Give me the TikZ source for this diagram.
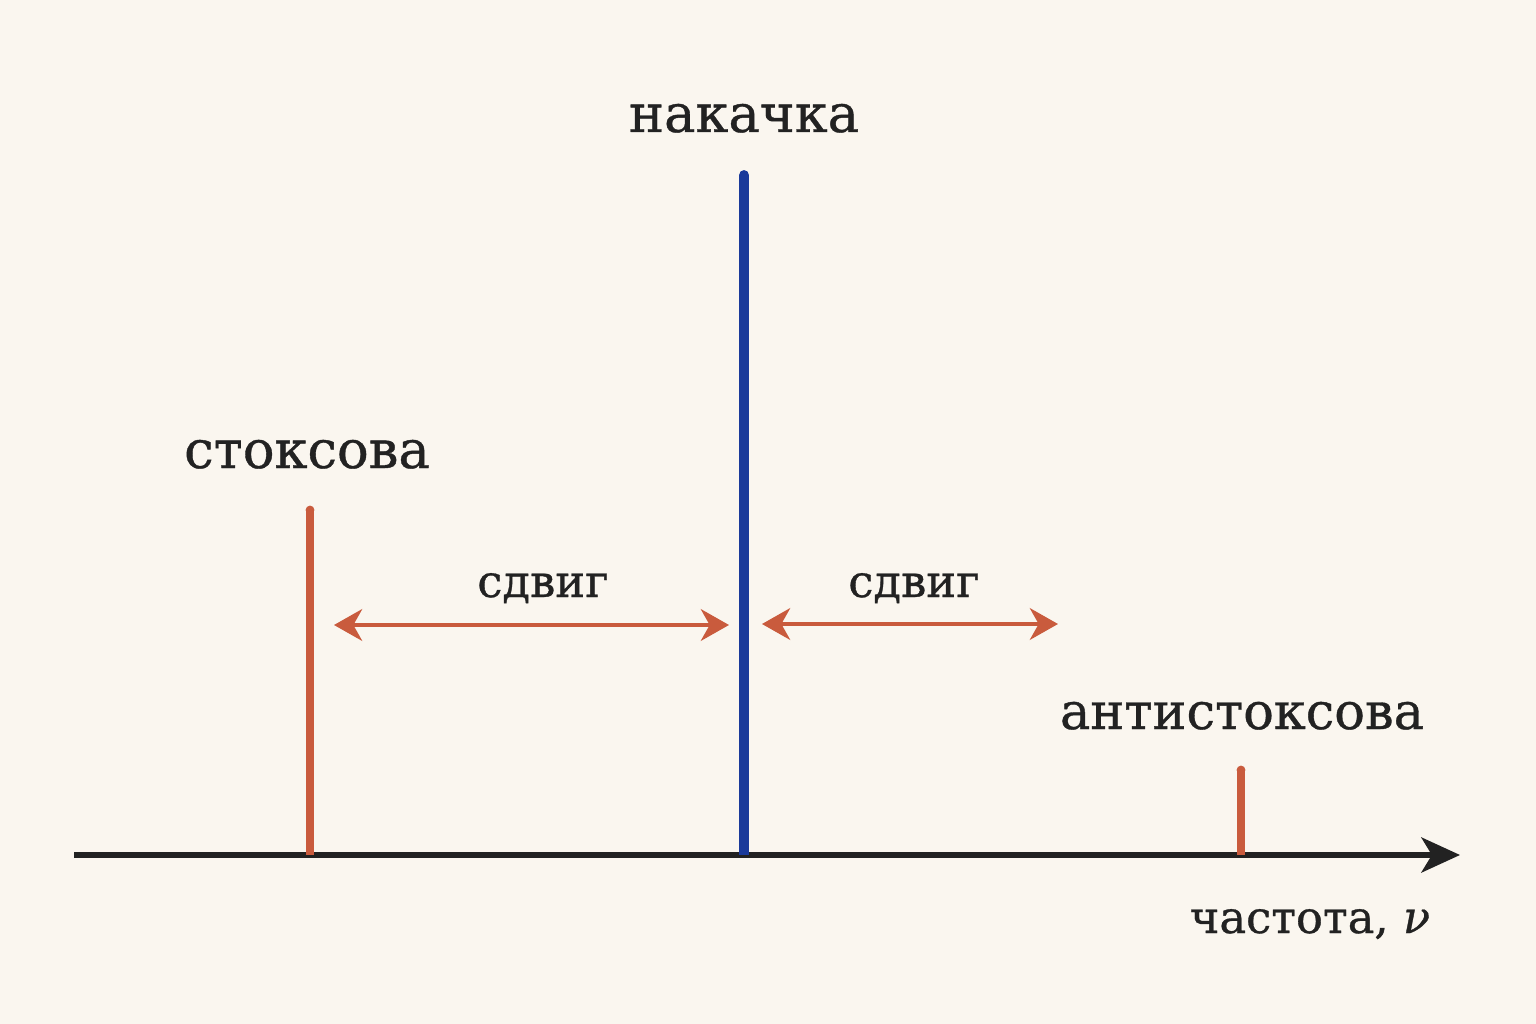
\documentclass[tikz,border=0pt]{standalone}
\usepackage{fontspec}
\setmainfont{DejaVu Serif}
\newfontfamily\lblfont{DejaVu Serif}[UprightFeatures={FakeBold=0.7}, ItalicFeatures={FakeBold=0.7}]
\usetikzlibrary{arrows.meta}
\definecolor{bg}{HTML}{FAF6EF}
\definecolor{pumpblue}{HTML}{1A3A9A}
\definecolor{rust}{HTML}{C95B3D}
\definecolor{ink}{HTML}{222222}
\tikzset{
  lbl/.style={text=ink, font=\lblfont\fontsize{30}{36}\selectfont, inner sep=0pt, anchor=base},
  smalllbl/.style={lbl, font=\lblfont\fontsize{25.5}{30}\selectfont},
  shiftarrow/.style={draw=rust, line width=2.4pt, {Stealth[length=16pt,width=18pt,inset=5pt]}-{Stealth[length=16pt,width=18pt,inset=5pt]}},
}
\begin{document}
\begin{tikzpicture}[x=0.02cm,y=-0.02cm]
\fill[bg] (0,0) rectangle (1536,1024);
\useasboundingbox (0,0) rectangle (1536,1024);
% axis
\coordinate (ax0) at (74,855);
\coordinate (ax1) at (1460,855);
\draw[ink, line width=2.9pt, -{Stealth[length=22pt,width=20pt,inset=6pt]}] (ax0) -- (ax1);
% lines
\coordinate (p0) at (744,855); \coordinate (p1) at (744,175);
\coordinate (s0) at (310,855); \coordinate (s1) at (310,510);
\coordinate (a0) at (1241,855); \coordinate (a1) at (1241,770);
\draw[pumpblue, line width=5.6pt] (p0) -- (p1);
\fill[pumpblue] (p1) circle[radius=2.8pt];
\draw[rust, line width=5pt] (s0) -- (s1);
\fill[rust] (s1) circle[radius=2.5pt];
\draw[rust, line width=5pt] (a0) -- (a1);
\fill[rust] (a1) circle[radius=2.5pt];
% shift arrows
\coordinate (l0) at (334,625); \coordinate (l1) at (729,625);
\coordinate (r0) at (762,624); \coordinate (r1) at (1058,624);
\draw[shiftarrow] (l0) -- (l1);
\draw[shiftarrow] (r0) -- (r1);
% labels
\node[lbl] (pump) at (744,132) {накачка};
\node[lbl] (stokes) at (307,468) {стоксова};
\node[smalllbl] (shiftL) at (543,597) {сдвиг};
\node[smalllbl] (shiftR) at (914,597) {сдвиг};
\node[lbl, font=\lblfont\fontsize{29}{34}\selectfont] (anti) at (1242,729) {антистоксова};
\node[smalllbl] (freq) at (1310,933) {частота, {\itshape ν}};
\end{tikzpicture}
\end{document}
